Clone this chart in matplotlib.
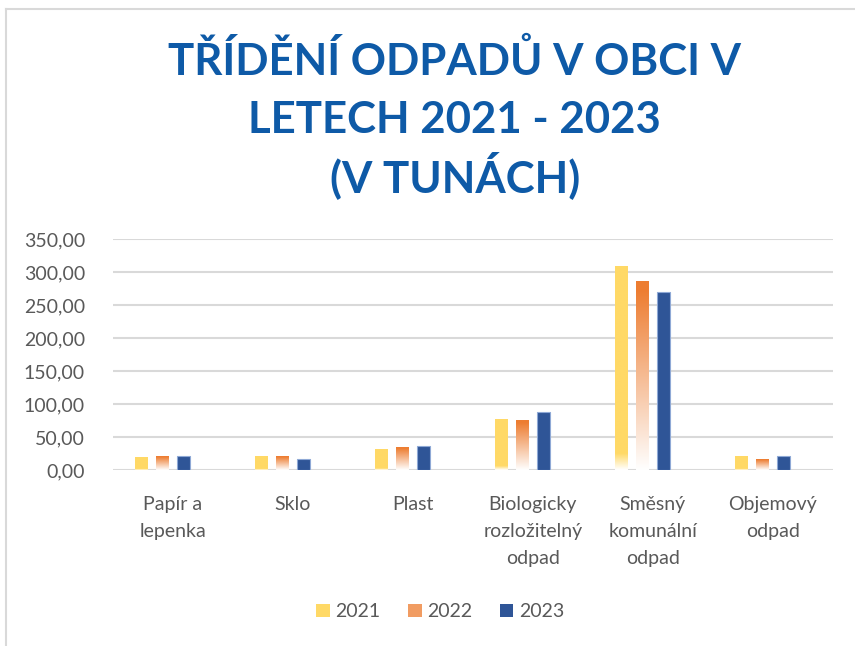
import numpy as np
import matplotlib
matplotlib.use("Agg")
import matplotlib.pyplot as plt
from matplotlib.lines import Line2D
from matplotlib.patches import Patch

# data (tuny)
categories = ["Papír a\nlepenka", "Sklo", "Plast", "Biologicky\nrozložitelný\nodpad",
              "Směsný\nkomunální\nodpad", "Objemový\nodpad"]
years = ["2021", "2022", "2023"]
vals_2021 = [19.5, 21.0, 31.5, 78.0, 309.0, 21.5]
vals_2022 = [21.0, 21.0, 34.5, 75.5, 286.0, 16.5]
vals_2023 = [21.0, 16.5, 36.0, 88.0, 270.0, 21.5]
yticks = [0, 50, 100, 150, 200, 250, 300, 350]
title_lines = ["TŘÍDĚNÍ ODPADŮ V OBCI V", "LETECH 2021 - 2023", "(V TUNÁCH)"]

plt.rcParams['font.family'] = ['Lato', 'DejaVu Sans']

fig = plt.figure(figsize=(8.55, 6.46), dpi=100)
ax = fig.add_axes([0.132, 0.2724, 0.842, 0.3576])

x = np.arange(len(categories))
step = 0.175
width = 0.108
# Excel leaves an empty 4th slot, so the group sits left of centre
offsets = [-1.5 * step, -0.5 * step, 0.5 * step]

yellow = '#FFD966'
orange = '#ED7D31'
blue = '#2F5597'


def gradient_fill(bars, color, mode):
    rgb = np.array(matplotlib.colors.to_rgb(color))
    n = 256
    t = np.linspace(0, 1, n)[:, None]  # 0 = bottom, 1 = top
    if mode == 'orange':
        a = np.clip(t * 1.05, 0, 1)
    else:
        a = np.clip(t / 0.08, 0, 1)
    img = a[..., None] * rgb + (1 - a[..., None]) * np.ones(3)
    img = np.repeat(img, 2, axis=1)
    for b in bars:
        x0, y0 = b.get_x(), b.get_y()
        w, h = b.get_width(), b.get_height()
        im = ax.imshow(img, extent=[x0, x0 + w, y0, y0 + h], origin='lower',
                       aspect='auto', zorder=2, interpolation='bilinear')
        im.set_clip_path(b)


b1 = ax.bar(x + offsets[0], vals_2021, width, color='none', edgecolor='none', zorder=2)
gradient_fill(b1, yellow, 'yellow')
b2 = ax.bar(x + offsets[1], vals_2022, width, color='none', edgecolor='none', zorder=2)
gradient_fill(b2, orange, 'orange')
b3 = ax.bar(x + offsets[2], vals_2023, width, color=blue, edgecolor='#8FA9D6',
            linewidth=0.8, zorder=2)

ax.set_xlim(-0.5, len(categories) - 0.5)
ax.set_ylim(0, 350)
ax.set_yticks(yticks)
ax.set_yticklabels([f"{v:.2f}".replace('.', ',') for v in yticks])
ax.set_xticks(x)
ax.set_xticklabels(categories, linespacing=1.7, va='top')
ax.tick_params(axis='both', length=0, labelsize=14, labelcolor='#595959')
ax.tick_params(axis='x', pad=19)
ax.tick_params(axis='y', pad=20)
ax.grid(axis='y', color='#D9D9D9', linewidth=1.5, zorder=0)
ax.set_axisbelow(True)
for s in ax.spines.values():
    s.set_visible(False)

# title, one line at a time so the baselines sit where Excel put them
for line, yb in zip(title_lines, [0.8839, 0.7941, 0.7028]):
    fig.text(0.532, yb, line, ha='center', va='baseline', fontsize=31.5,
             fontweight='bold', color='#0E5AA7')

handles = [Patch(facecolor=yellow), Patch(facecolor='#F19C62'), Patch(facecolor=blue)]
fig.legend(handles, years, loc='center', bbox_to_anchor=(0.515, 0.053), ncol=3,
           frameon=False, fontsize=14, labelcolor='#595959',
           handlelength=0.7, handleheight=0.7, handletextpad=0.3, columnspacing=1.4)

# chart area border (left and top visible)
fig.add_artist(Line2D([0.007, 0.007], [0.0, 0.986], color='#D9D9D9', lw=1.5))
fig.add_artist(Line2D([0.007, 1.0], [0.986, 0.986], color='#D9D9D9', lw=1.5))

fig.savefig("out.png", dpi=100)
